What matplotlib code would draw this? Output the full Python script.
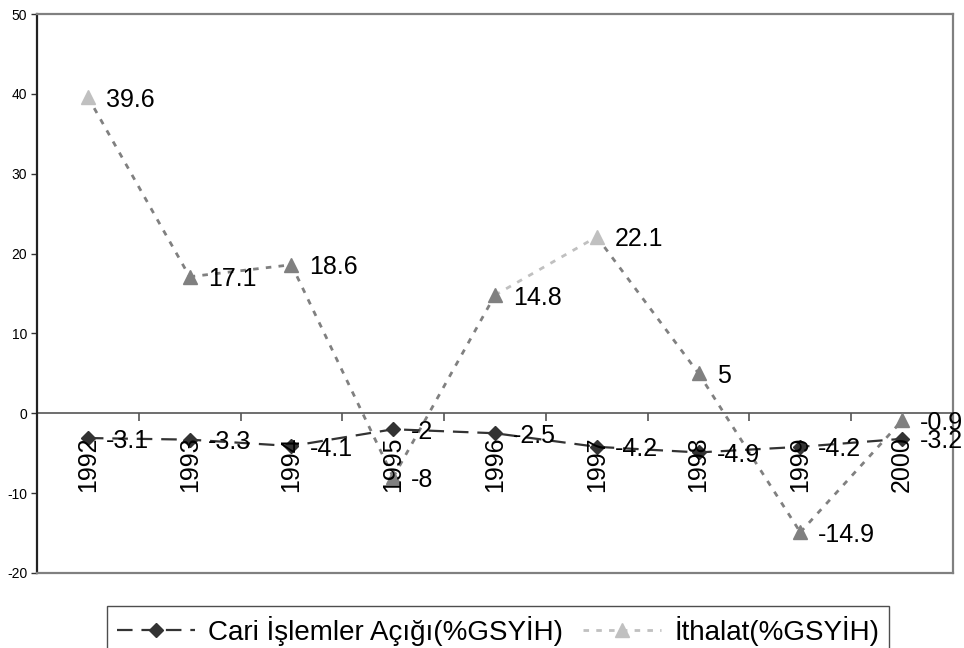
import matplotlib
matplotlib.use("Agg")
import matplotlib.pyplot as plt
from matplotlib.lines import Line2D
from matplotlib.transforms import offset_copy

plt.rcParams['font.family'] = ['Liberation Sans', 'DejaVu Sans']
plt.rcParams['axes.unicode_minus'] = False

years = ['1992', '1993', '1994', '1995', '1996', '1997', '1998', '1999', '2000']
cari = [-3.1, -3.3, -4.1, -2, -2.5, -4.2, -4.9, -4.2, -3.2]
ithalat = [39.6, 17.1, 18.6, -8, 14.8, 22.1, 5, -14.9, -0.9]
cari_label = 'Cari İşlemler Açığı(%GSYİH)'
ithalat_label = 'İthalat(%GSYİH)'

DARK = '#333333'
MID = '#808080'
LIGHT = '#C0C0C0'
# per-point marker shades and per-segment line shades for the import series
ith_marker_colors = [LIGHT, MID, MID, MID, MID, LIGHT, MID, MID, MID]
ith_segment_colors = [MID, MID, MID, MID, LIGHT, MID, MID, MID]

fig = plt.figure(figsize=(9.64, 6.48), dpi=100)
W, H = 964, 648
ax = fig.add_axes([37 / W, 1 - 573 / H, (953 - 37) / W, (573 - 14) / H])

x = list(range(len(years)))
ax.set_xlim(-0.5, len(years) - 0.5)
ax.set_ylim(-20, 50)
ax.set_yticks(range(-20, 51, 10))
ax.set_xticks([])
ax.tick_params(axis='y', labelsize=10, length=4, width=1, color='#333333', pad=3)

for side in ('top', 'right', 'bottom'):
    ax.spines[side].set_color(MID)
    ax.spines[side].set_linewidth(1.6)
ax.spines['left'].set_color('#222222')
ax.spines['left'].set_linewidth(1.6)

# category axis running through zero, with ticks between categories
ax.axhline(0, color='#555555', lw=1.2, zorder=1)
ax.vlines([i + 0.5 for i in x[:-1]], -1.0, 0, color='#555555', lw=1.2, zorder=1)

# import series: dotted segments and triangle markers
for i in range(len(years) - 1):
    ax.plot(x[i:i + 2], ithalat[i:i + 2], color=ith_segment_colors[i], lw=2.0,
            linestyle=(0, (2, 2.6)), zorder=2)
for i in x:
    ax.plot(x[i], ithalat[i], marker='^', markersize=10, color=ith_marker_colors[i],
            linestyle='none', zorder=3)

# current account series
ax.plot(x, cari, color=DARK, lw=1.6, linestyle=(0, (7, 4)), marker='D',
        markersize=7, markerfacecolor=DARK, markeredgecolor=DARK, zorder=4)

# value labels to the right of points
lab_tr = offset_copy(ax.transData, fig=fig, x=18, y=0, units='dots')
for xi, v in zip(x, ithalat):
    ax.text(xi, v, f'{v:g}', transform=lab_tr, fontsize=18, ha='left',
            va='center_baseline', clip_on=False, zorder=6)
for xi, v in zip(x, cari):
    ax.text(xi, v, f'{v:g}', transform=lab_tr, fontsize=18, ha='left',
            va='center_baseline', clip_on=False, zorder=6)

# rotated category labels below the zero line
cat_tr = offset_copy(ax.transData, fig=fig, x=0, y=-23, units='dots')
for xi, yr in zip(x, years):
    ax.text(xi, 0, yr, transform=cat_tr, fontsize=18, rotation=90,
            ha='center', va='top', zorder=5)

handles = [
    Line2D([], [], color=DARK, lw=1.6, linestyle=(0, (7, 4)), marker='D',
           markersize=7, markerfacecolor=DARK, markeredgecolor=DARK),
    Line2D([], [], color=LIGHT, lw=2.0, linestyle=(0, (2, 2.6)), marker='^',
           markersize=10, markerfacecolor=LIGHT, markeredgecolor=LIGHT),
]
leg = fig.legend(handles, [cari_label, ithalat_label], loc='upper left',
                 bbox_to_anchor=(107 / W, 1 - 606 / H), ncol=2, fontsize=20,
                 frameon=True, fancybox=False, handlelength=2.8,
                 handletextpad=0.5, columnspacing=0.7, borderpad=0.35,
                 borderaxespad=0)
leg.get_frame().set_edgecolor('#222222')
leg.get_frame().set_linewidth(1.0)

fig.savefig('out.png', dpi=100)
